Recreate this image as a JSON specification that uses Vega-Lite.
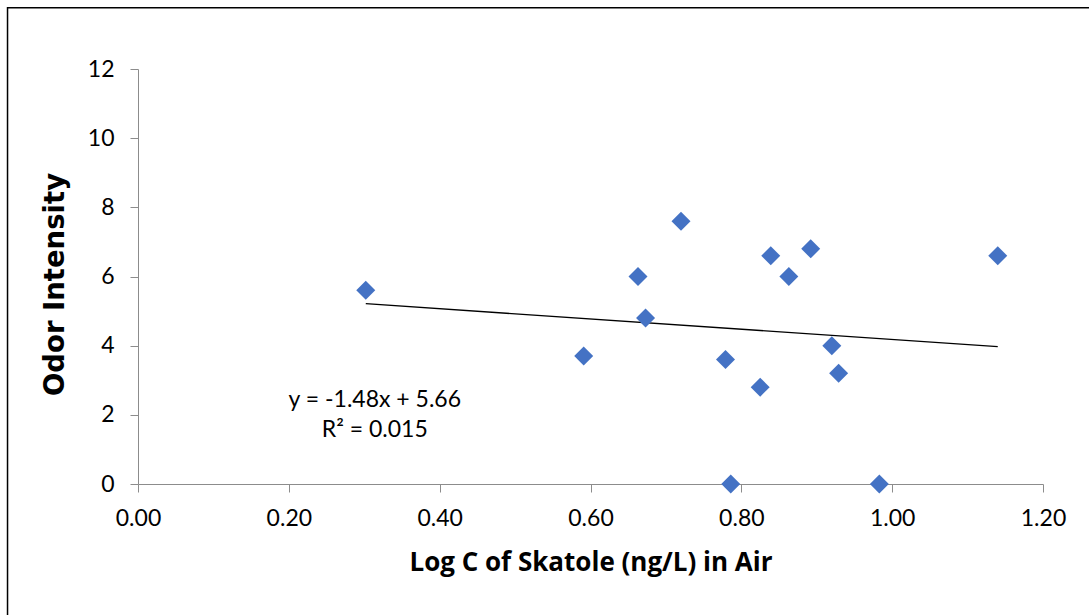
{
  "$schema": "https://vega.github.io/schema/vega-lite/v6.json",
  "width": 905,
  "height": 415,
  "autosize": {"type": "none"},
  "padding": {"left": 138, "top": 69, "right": 46, "bottom": 131},
  "background": "white",
  "config": {"view": {"stroke": null}, "font": "Lato"},
  "datasets": {
    "points": [
      {"logC": 0.302, "intensity": 5.6},
      {"logC": 0.591, "intensity": 3.7},
      {"logC": 0.663, "intensity": 6.0},
      {"logC": 0.673, "intensity": 4.8},
      {"logC": 0.720, "intensity": 7.6},
      {"logC": 0.779, "intensity": 3.6},
      {"logC": 0.786, "intensity": 0.0},
      {"logC": 0.825, "intensity": 2.8},
      {"logC": 0.839, "intensity": 6.6},
      {"logC": 0.863, "intensity": 6.0},
      {"logC": 0.892, "intensity": 6.8},
      {"logC": 0.920, "intensity": 4.0},
      {"logC": 0.929, "intensity": 3.2},
      {"logC": 0.983, "intensity": 0.0},
      {"logC": 1.140, "intensity": 6.6}
    ],
    "trend": [
      {"logC": 0.302, "intensity": 5.213},
      {"logC": 1.140, "intensity": 3.973}
    ]
  },
  "layer": [
    {
      "data": {"values": [{"frame": "chart area"}]},
      "mark": {"type": "rect", "fill": null, "stroke": "#000000", "strokeWidth": 1.5, "clip": false},
      "encoding": {
        "x": {
          "datum": -0.173,
          "type": "quantitative",
          "scale": {"domain": [0, 1.2], "nice": false, "zero": false},
          "axis": {
            "title": "Log C of Skatole (ng/L) in Air",
            "values": [0, 0.2, 0.4, 0.6, 0.8, 1.0, 1.2],
            "format": ".2f",
            "grid": false,
            "domainColor": "#8c8c8c",
            "tickColor": "#8c8c8c",
            "tickSize": 8,
            "labelFont": "Lato",
            "labelFontSize": 23,
            "labelColor": "#000000",
            "labelPadding": 15,
            "labelFlush": false,
            "labelOverlap": false,
            "titleFont": "Open Sans",
            "titleFontSize": 26,
            "titleFontWeight": "bold",
            "titleColor": "#000000",
            "titleBaseline": "alphabetic",
            "titleY": 86
          }
        },
        "x2": {"datum": 1.3},
        "y": {
          "datum": 13.77,
          "type": "quantitative",
          "scale": {"domain": [0, 12], "nice": false},
          "axis": {
            "title": "Odor Intensity",
            "values": [0, 2, 4, 6, 8, 10, 12],
            "grid": false,
            "domainColor": "#8c8c8c",
            "tickColor": "#8c8c8c",
            "tickSize": 8,
            "labelFont": "Lato",
            "labelFontSize": 23,
            "labelColor": "#000000",
            "labelPadding": 16,
            "labelFlush": false,
            "labelOverlap": false,
            "titleFont": "DejaVu Sans",
            "titleFontSize": 27.5,
            "titleFontWeight": "bold",
            "titleColor": "#000000",
            "titleAngle": 270,
            "titleAlign": "center",
            "titleBaseline": "alphabetic",
            "titleX": -75,
            "titleY": 215
          }
        },
        "y2": {"datum": -5}
      }
    },
    {
      "data": {"name": "trend"},
      "mark": {"type": "line", "color": "#000000", "strokeWidth": 1.3},
      "encoding": {
        "x": {"field": "logC", "type": "quantitative", "title": "Log C of Skatole (ng/L) in Air"},
        "y": {"field": "intensity", "type": "quantitative", "title": "Odor Intensity"}
      }
    },
    {
      "data": {"name": "points"},
      "mark": {"type": "point", "shape": "diamond", "filled": true, "size": 360, "color": "#4472C4", "opacity": 1, "strokeWidth": 0},
      "encoding": {
        "x": {"field": "logC", "type": "quantitative", "title": "Log C of Skatole (ng/L) in Air"},
        "y": {"field": "intensity", "type": "quantitative", "title": "Odor Intensity"}
      }
    },
    {
      "data": {"values": [{"label": "y = -1.48x + 5.66"}]},
      "mark": {"type": "text", "font": "Lato", "fontSize": 23, "color": "#000000", "align": "center", "baseline": "alphabetic"},
      "encoding": {
        "x": {"datum": 0.314, "type": "quantitative", "title": "Log C of Skatole (ng/L) in Air"},
        "y": {"datum": 2.234, "type": "quantitative", "title": "Odor Intensity"},
        "text": {"field": "label"}
      }
    },
    {
      "data": {"values": [{"label": "R² = 0.015"}]},
      "mark": {"type": "text", "font": "Lato", "fontSize": 23, "color": "#000000", "align": "center", "baseline": "alphabetic"},
      "encoding": {
        "x": {"datum": 0.314, "type": "quantitative", "title": "Log C of Skatole (ng/L) in Air"},
        "y": {"datum": 1.35, "type": "quantitative", "title": "Odor Intensity"},
        "text": {"field": "label"}
      }
    }
  ]
}
